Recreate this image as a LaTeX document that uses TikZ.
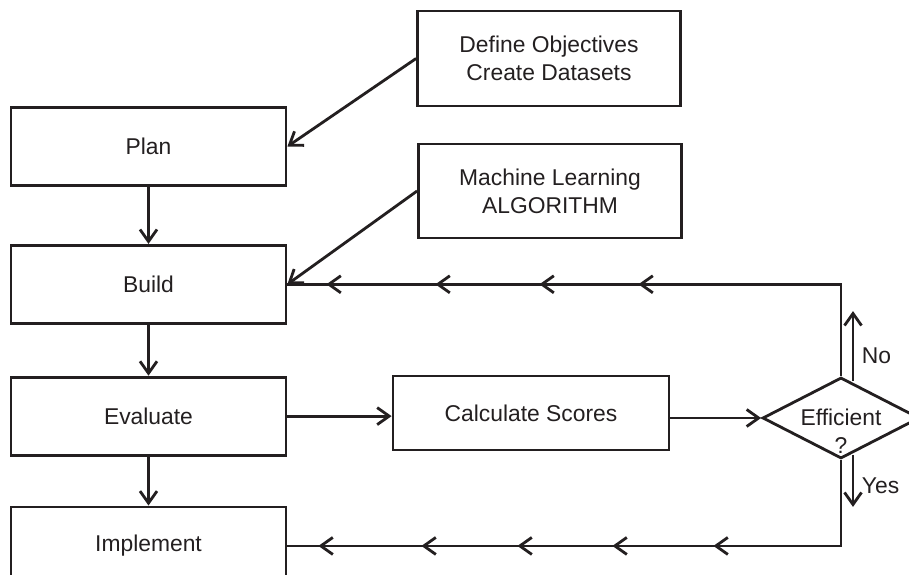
\documentclass[tikz,border=0pt]{standalone}
\usepackage{fontspec}
\setmainfont{Liberation Sans}
\usetikzlibrary{arrows.meta,positioning,shapes.geometric,decorations.markings}
\definecolor{flowink}{HTML}{231F20}

\begin{document}
\begin{tikzpicture}[
  font=\fontsize{13}{16}\selectfont,
  >={Straight Barb[length=2.4mm,width=3.4mm]},
  stage/.style={draw=flowink, text=flowink, line width=1.6pt, align=center, minimum width=5.5cm, minimum height=1.56cm, inner sep=0pt},
  source/.style={stage, minimum width=5.26cm, minimum height=1.9cm},
  decision/.style={draw=flowink, line width=1.6pt, diamond, aspect=2, inner sep=0pt, minimum width=3.14cm, minimum height=1.62cm},
  flow/.style={->, draw=flowink, line width=1.6pt},
  link/.style={draw=flowink, line width=1.6pt, postaction={decorate}},
  tag/.style={text=flowink, inner sep=0.15cm}
]
\useasboundingbox (0,0) rectangle (18.18,-11.5);

\node[stage] (plan) at (2.97,-2.93) {Plan};
\node[stage, below=1.14cm of plan] (build) {Build};
\node[stage, below=1.02cm of build] (evaluate) {Evaluate};
\node[stage, below=0.98cm of evaluate] (implement) {Implement};
\node[source] (objectives) at (10.98,-1.17) {Define Objectives\\Create Datasets};
\node[source, minimum height=1.88cm] (algorithm) at (11.0,-3.82) {Machine Learning\\ALGORITHM};
\node[stage, minimum width=5.52cm, minimum height=1.48cm] (scores) at (10.62,-8.26) {Calculate Scores};
\node[decision, label={[tag, inner sep=0pt, align=center, yshift=-0.26cm]center:Efficient\\?}] (efficient) at (16.82,-8.36) {};

\path (efficient.north) ++(0.24,-0.1) coordinate (noFrom) ++(0,1.4) coordinate (noTo);
\path (efficient.south) ++(0.24,0.1) coordinate (yesFrom) ++(0,-1.04) coordinate (yesTo);

\draw[flow] (objectives.west) -- (plan.east);
\draw[flow] (algorithm.west) -- (build.east);
\draw[flow] (plan) -- (build);
\draw[flow] (build) -- (evaluate);
\draw[flow] (evaluate) -- (implement);
\draw[flow] (evaluate.east) -- (evaluate.east -| scores.west);
\draw[flow] (scores.east |- efficient.west) -- (efficient.west);
\draw[flow] (noFrom) -- node[right, tag, pos=0.36] {No} (noTo);
\draw[flow] (yesFrom) -- node[right, tag, pos=0.6] {Yes} (yesTo);

% loop back to build / forward to implement
\draw[link, decoration={markings,
    mark=at position -0.78cm with {\arrow{>}},
    mark=at position -2.96cm with {\arrow{>}},
    mark=at position -5.04cm with {\arrow{>}},
    mark=at position -7.02cm with {\arrow{>}}}]
  (efficient.north) |- (build.east);
\draw[link, decoration={markings,
    mark=at position -0.62cm with {\arrow{>}},
    mark=at position -2.68cm with {\arrow{>}},
    mark=at position -4.6cm with {\arrow{>}},
    mark=at position -6.5cm with {\arrow{>}},
    mark=at position -8.52cm with {\arrow{>}}}]
  (efficient.south) |- (implement.east);
\end{tikzpicture}
\end{document}
